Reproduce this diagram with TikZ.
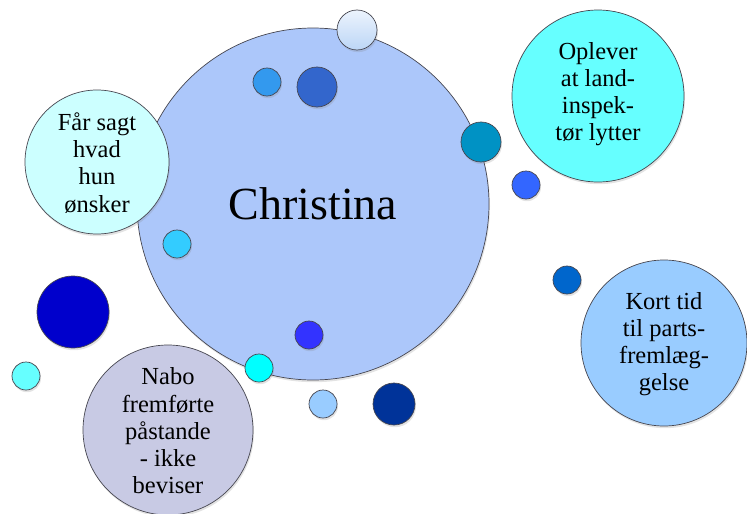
\documentclass[tikz,border=0pt]{standalone}
\usepackage{fontspec}
\setmainfont{Liberation Serif}
\usetikzlibrary{shadows}
\definecolor{cmain}{RGB}{172,199,250}
\definecolor{cstroke}{RGB}{70,70,80}
\definecolor{cfaar}{RGB}{204,255,255}
\definecolor{copl}{RGB}{102,255,255}
\definecolor{ckort}{RGB}{153,204,255}
\definecolor{cnabo}{RGB}{200,202,228}
\definecolor{ctoplight}{RGB}{236,243,253}
\definecolor{ctoplightb}{RGB}{188,214,246}
\definecolor{cb1}{RGB}{51,153,238}
\definecolor{cb2}{RGB}{51,102,204}
\definecolor{cb3}{RGB}{51,204,255}
\definecolor{cb4}{RGB}{0,146,196}
\definecolor{cb5}{RGB}{51,102,255}
\definecolor{cb6}{RGB}{0,102,204}
\definecolor{cb7}{RGB}{0,0,204}
\definecolor{cb8}{RGB}{102,255,255}
\definecolor{cb9}{RGB}{0,255,255}
\definecolor{cb10}{RGB}{51,51,255}
\definecolor{cb11}{RGB}{153,204,255}
\definecolor{cb12}{RGB}{0,51,153}
\tikzset{
  bub/.style={circle, draw=cstroke, line width=0.7pt, inner sep=0pt,
    drop shadow={opacity=0.22, shadow xshift=1pt, shadow yshift=-2.2pt}},
  lbl/.style={align=center, font=\fontsize{24.5}{27.2}\selectfont, inner sep=0pt},
}
\begin{document}
\begin{tikzpicture}[x=1pt,y=-1pt]
\useasboundingbox (0,0) rectangle (747,514);
% main circle
\node[bub, fill=cmain, minimum size=352pt] (main) at (313,204) {};
\node[font=\fontsize{46}{50}\selectfont, inner sep=0pt] (mainlbl) at (main.center) {Christina};
% text bubbles
\node[bub, fill=cfaar, minimum size=144pt] (faar) at (97,162) {};
\node[lbl] (faarlbl) at ([yshift=-1pt]faar.center) {Får sagt\\hvad\\hun\\ønsker};
\node[bub, fill=copl, minimum size=172pt] (opl) at (598,96) {};
\node[lbl] (opllbl) at ([yshift=2pt]opl.center) {Oplever\\at land-\\inspek-\\tør lytter};
\node[bub, fill=ckort, minimum size=166pt] (kort) at (664,343) {};
\node[lbl] (kortlbl) at ([yshift=-1pt]kort.center) {Kort tid\\til parts-\\fremlæg-\\gelse};
\node[bub, fill=cnabo, minimum size=170pt] (nabo) at (168,430) {};
\node[lbl] (nabolbl) at ([yshift=-1pt]nabo.center) {Nabo\\fremførte\\påstande\\- ikke\\beviser};
% small bubbles
\node[bub, top color=ctoplight, bottom color=ctoplightb, minimum size=40pt] (s1) at (357,30) {};
\node[bub, fill=cb1, minimum size=28pt] (s2) at (267,82) {};
\node[bub, fill=cb2, minimum size=40pt] (s3) at (317,87) {};
\node[bub, fill=cb3, minimum size=28pt] (s4) at (177,244) {};
\node[bub, fill=cb4, minimum size=40pt] (s5) at (481,142) {};
\node[bub, fill=cb5, minimum size=28pt] (s6) at (526,185) {};
\node[bub, fill=cb6, minimum size=28pt] (s7) at (567,280) {};
\node[bub, fill=cb7, minimum size=72pt] (s8) at (73,312) {};
\node[bub, fill=cb8, minimum size=28pt] (s9) at (26,376) {};
\node[bub, fill=cb9, minimum size=28pt] (s10) at (259,368) {};
\node[bub, fill=cb10, minimum size=28pt] (s11) at (309,335) {};
\node[bub, fill=cb11, minimum size=28pt] (s12) at (323,404) {};
\node[bub, fill=cb12, minimum size=42pt] (s13) at (394,404) {};
\end{tikzpicture}
\end{document}
